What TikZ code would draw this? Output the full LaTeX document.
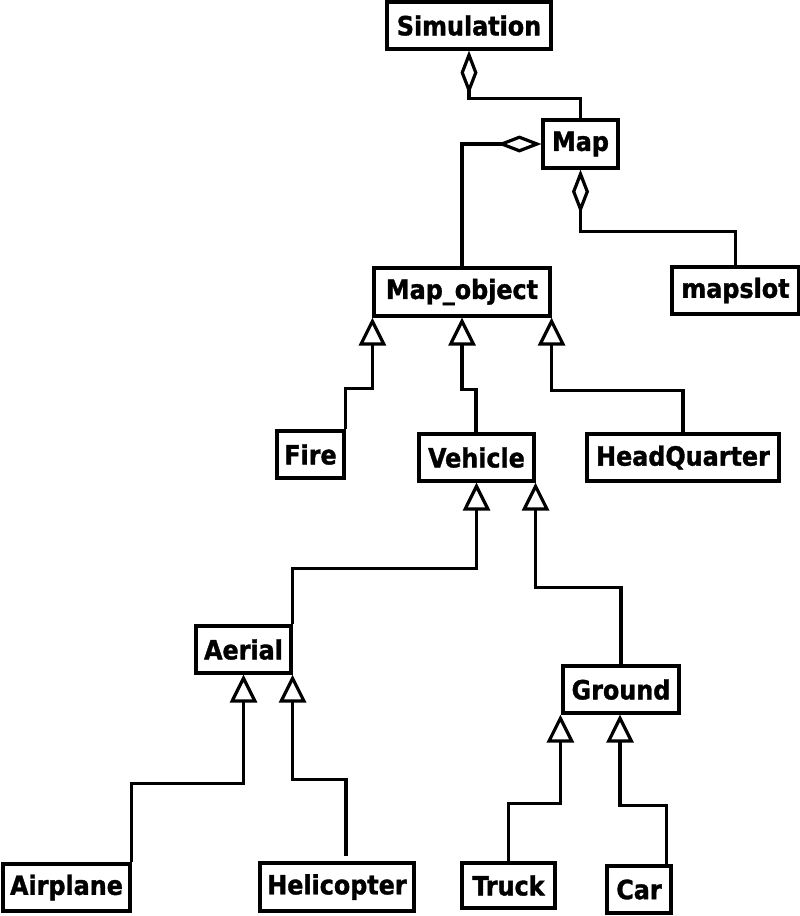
\documentclass[tikz,border=0pt]{standalone}
\usepackage{fontspec}
\setmainfont{DejaVu Sans Condensed}[BoldFeatures={FakeBold=1.3}]
\usetikzlibrary{arrows.meta}
\tikzset{
  box/.style={draw, line width=3.2pt, inner sep=0pt, font=\fontsize{26.5}{31}\selectfont\bfseries},
  conn/.style={line width=3.2pt},
  aggr/.style={conn, {Diamond[open, length=44pt, width=17pt, line join=miter]}-},
  inh/.style={conn, {Triangle[open, length=28pt, width=27pt, line join=miter]}-},
}
\begin{document}
\begin{tikzpicture}[x=1pt,y=-1pt]
\useasboundingbox (0,0) rectangle (800,916);
% boxes
\node[box, minimum width=164pt, minimum height=47pt] (sim) at (469,25.5) {Simulation};
\node[box, minimum width=75pt, minimum height=48pt] (map) at (580.5,144) {Map};
\node[box, minimum width=127pt, minimum height=47pt] (mapslot) at (735.5,290.5) {mapslot};
\node[box, minimum width=176pt, minimum height=48pt] (mapobj) at (462,292) {Map\_object};
\node[box, minimum width=67pt, minimum height=47pt] (fire) at (310.5,454.5) {Fire};
\node[box, minimum width=115pt, minimum height=47pt] (vehicle) at (476.5,457.5) {Vehicle};
\node[box, minimum width=192pt, minimum height=47pt] (hq) at (683,457.5) {HeadQuarter};
\node[box, minimum width=95pt, minimum height=47pt] (aerial) at (243.5,649.5) {Aerial};
\node[box, minimum width=116pt, minimum height=47pt] (ground) at (621,689.5) {Ground};
\node[box, minimum width=127pt, minimum height=47pt] (airplane) at (66.5,887.5) {Airplane};
\node[box, minimum width=154pt, minimum height=48pt] (heli) at (337,887) {Helicopter};
\node[box, minimum width=93pt, minimum height=45pt] (truck) at (508.5,885.5) {Truck};
\node[box, minimum width=64pt, minimum height=47pt] (car) at (639,889.5) {Car};
\coordinate (helitop) at (346,856);
% aggregations
\draw[aggr] (sim.south) -- ++(0,48) -| (map.north);
\draw[aggr] (map.west) -| (mapobj.north);
\draw[aggr] (map.south) -- ++(0,62) -| (mapslot.north);
% inheritance
\draw[inh] (mapobj.south west) -- ++(0,71) -| (fire.north east);
\draw[inh] (mapobj.south) -- ++(0,72) -| ([xshift=-0.5pt]vehicle.north);
\draw[inh] (mapobj.south east) -- ++(0,73) -| (hq.north);
\draw[inh] (vehicle.south) -- ++(0,86) -| (aerial.north east);
\draw[inh] (vehicle.south east) -- ++(0,105) -| (ground.north);
\draw[inh] (aerial.south) -- ++(0,109) -| (airplane.north east);
\draw[inh] (aerial.south east) -- ++(0,105) -| (helitop);
\draw[inh] ([xshift=-1pt]ground.south west) -- ++(0,89) -| (truck.north);
\draw[inh] ([xshift=-1pt]ground.south) -- ++(0,91) -| ([xshift=-6pt]car.north east);
\end{tikzpicture}
\end{document}
